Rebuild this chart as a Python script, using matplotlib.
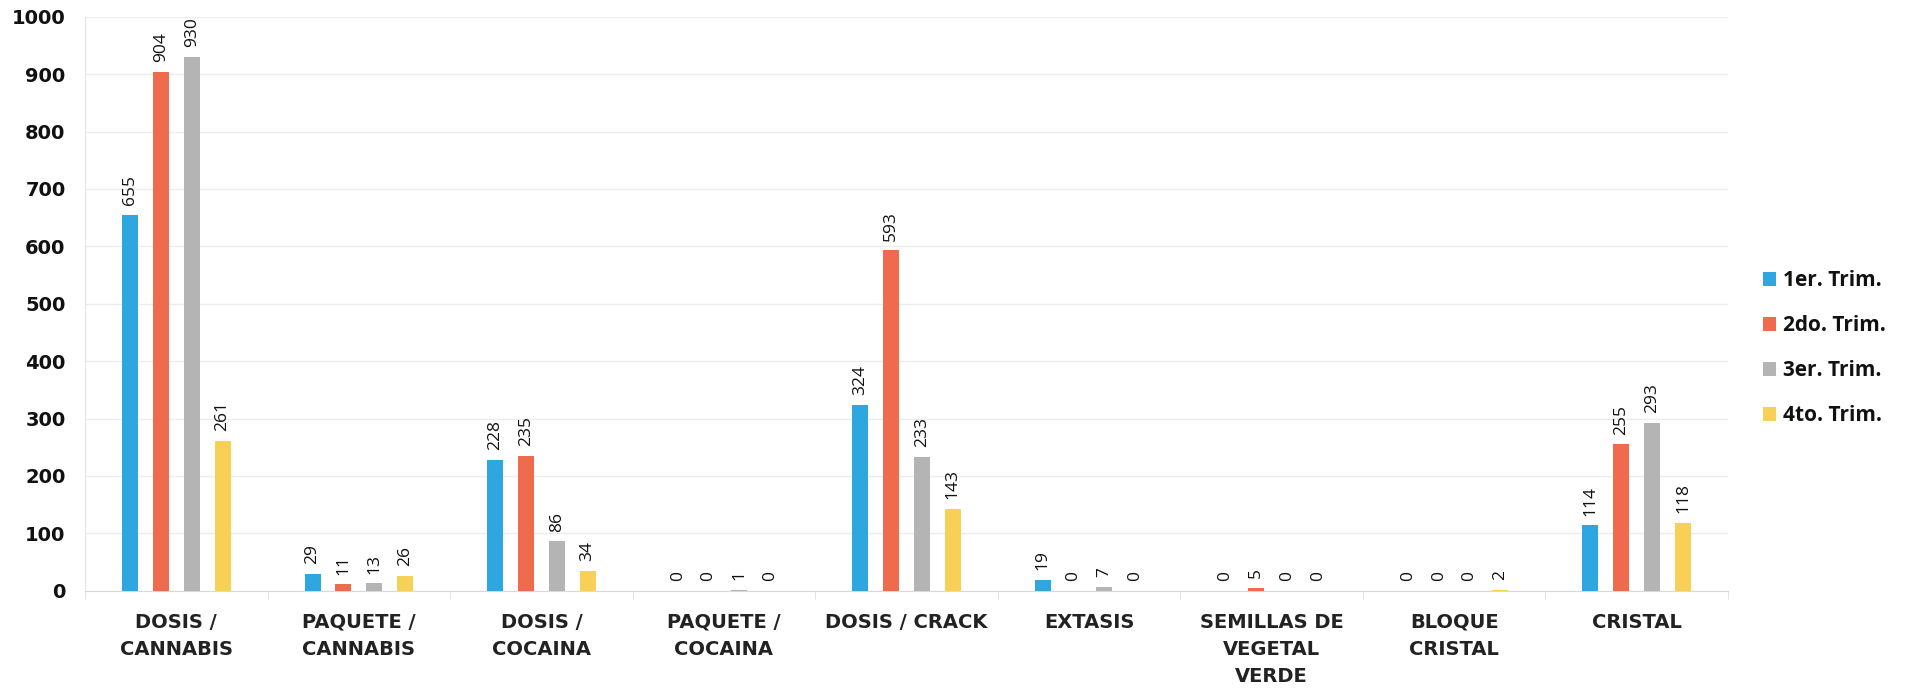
import matplotlib
matplotlib.use("Agg")
import matplotlib.pyplot as plt
import numpy as np

categories = ["DOSIS /\nCANNABIS", "PAQUETE /\nCANNABIS", "DOSIS /\nCOCAINA",
              "PAQUETE /\nCOCAINA", "DOSIS / CRACK", "EXTASIS",
              "SEMILLAS DE\nVEGETAL\nVERDE", "BLOQUE\nCRISTAL", "CRISTAL"]
series_names = ["1er. Trim.", "2do. Trim.", "3er. Trim.", "4to. Trim."]
trim1 = [655, 29, 228, 0, 324, 19, 0, 0, 114]
trim2 = [904, 11, 235, 0, 593, 0, 5, 0, 255]
trim3 = [930, 13, 86, 1, 233, 7, 0, 0, 293]
trim4 = [261, 26, 34, 0, 143, 0, 0, 2, 118]
series = [trim1, trim2, trim3, trim4]
colors = ["#2ea7e0", "#f06b4d", "#b4b4b4", "#f7d055"]
yticks = [0, 100, 200, 300, 400, 500, 600, 700, 800, 900, 1000]

fig = plt.figure(figsize=(19.10, 6.91), dpi=100)
ax = fig.add_axes([0.0445, 0.1451, 0.8602, 0.8307])

x = np.arange(len(categories))
bw = 0.088
step = 0.169
offsets = [-1.5 * step, -0.5 * step, 0.5 * step, 1.5 * step]
for vals, name, col, off in zip(series, series_names, colors, offsets):
    bars = ax.bar(x + off, vals, width=bw, color=col, label=name, zorder=3)
    for b, v in zip(bars, vals):
        ax.annotate(str(v), (b.get_x() + b.get_width() / 2, v),
                    xytext=(0, 7), textcoords="offset points",
                    rotation=90, ha="center", va="bottom",
                    fontsize=12.5, family="Open Sans", fontweight="medium",
                    color="#111111")

ax.set_xlim(-0.5, len(categories) - 0.5)
ax.set_ylim(0, 1000)
ax.set_yticks(yticks)
ax.set_yticklabels([str(t) for t in yticks], fontsize=14, fontweight="bold",
                   family="DejaVu Sans", color="#111111")
ax.tick_params(axis="y", length=0, pad=14)

ax.set_xticks(x)
ax.set_xticklabels(categories, fontsize=14, family="DejaVu Sans",
                   fontweight="bold", color="#222222", linespacing=1.55)
ax.tick_params(axis="x", length=0, pad=16)
ax.set_xticks(np.arange(len(categories) + 1) - 0.5, minor=True)
ax.tick_params(axis="x", which="minor", length=6, color="#dddddd")

ax.grid(axis="y", color="#ececec", linewidth=1, zorder=0)
for s in ["top", "right"]:
    ax.spines[s].set_visible(False)
ax.spines["left"].set_color("#e4e4e4")
ax.spines["bottom"].set_color("#d9d9d9")

leg = fig.legend(loc="center left", bbox_to_anchor=(0.913, 0.496),
                 frameon=False, handlelength=0.65, handleheight=0.65,
                 handletextpad=0.35, labelspacing=1.15,
                 prop={"family": "Open Sans", "weight": "bold", "size": 15})
for t in leg.get_texts():
    t.set_color("#111111")

fig.savefig("out.png", dpi=100, facecolor="white")
